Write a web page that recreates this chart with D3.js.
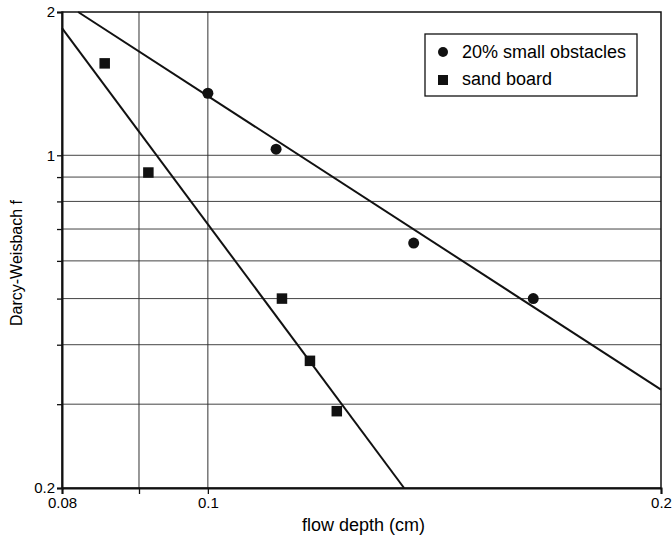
<!DOCTYPE html>
<html><head><meta charset="utf-8">
<script src="https://cdn.jsdelivr.net/npm/d3@7"></script>
<style>body{margin:0;background:#fff}svg{display:block}text{font-family:"Liberation Sans",Arial,sans-serif;fill:#000}</style>
</head><body><svg id="c" width="672" height="540"></svg>
<script>
// Data
const obstaclesDepth = [0.1, 0.111, 0.137, 0.1645];
const obstaclesF = [1.35, 1.03, 0.654, 0.50];
const sandDepth = [0.0854, 0.0913, 0.112, 0.1169, 0.1218];
const sandF = [1.56, 0.92, 0.50, 0.370, 0.290];
// fitted lines (endpoints)
const obstaclesFitX = [0.082, 0.2];
const obstaclesFitY = [2.0, 0.322];
const sandFitX = [0.08, 0.135];
const sandFitY = [1.85, 0.2];
const xTicks = [0.08, 0.09, 0.1, 0.2];
const xTickLabels = ["0.08", "", "0.1", "0.2"];
const yTicks = [0.2, 0.3, 0.4, 0.5, 0.6, 0.7, 0.8, 0.9, 1, 2];
const yTickLabels = ["0.2", "", "", "", "", "", "", "", "1", "2"];
const xGrid = [0.09, 0.1];
const yGrid = [0.3, 0.4, 0.5, 0.6, 0.7, 0.8, 0.9, 1];
const legendLabels = ["20% small obstacles", "sand board"];

const L = 62, R = 661, T = 12, B = 488;
const svg = d3.select("#c");
const x = d3.scaleLog().domain([0.08, 0.2]).range([L, R]);
const y = d3.scaleLog().domain([0.2, 2]).range([B, T]);

// grid
svg.append("g").selectAll("line").data(yGrid).join("line")
  .attr("x1", L).attr("x2", R).attr("y1", d => y(d)).attr("y2", d => y(d))
  .attr("stroke", "#444").attr("stroke-width", 1);
svg.append("g").selectAll("line").data(xGrid).join("line")
  .attr("y1", T).attr("y2", B).attr("x1", d => x(d)).attr("x2", d => x(d))
  .attr("stroke", "#333").attr("stroke-width", 1);

// frame
svg.append("rect").attr("x", L).attr("y", T).attr("width", R - L).attr("height", B - T)
  .attr("fill", "none").attr("stroke", "#111").attr("stroke-width", 1.5);

// axes
const xAxis = d3.axisBottom(x).tickValues(xTicks).tickSize(6)
  .tickFormat((d, i) => xTickLabels[i]);
const gx = svg.append("g").attr("transform", `translate(0,${B})`).call(xAxis);
gx.select(".domain").attr("stroke", "#111").attr("stroke-width", 2);
gx.selectAll(".tick line").attr("stroke", "#111").attr("stroke-width", 1.3);
gx.selectAll(".tick text").attr("font-size", 15).attr("dy", "0.75em")
  .attr("font-family", "Liberation Sans, Arial, sans-serif").attr("fill", "#000");

const yAxis = d3.axisLeft(y).tickValues(yTicks).tickSize(5)
  .tickFormat((d, i) => yTickLabels[i]);
const gy = svg.append("g").attr("transform", `translate(${L},0)`).call(yAxis);
gy.select(".domain").attr("stroke", "#111").attr("stroke-width", 2);
gy.selectAll(".tick line").attr("stroke", "#111").attr("stroke-width", 1.3);
gy.selectAll(".tick text").attr("font-size", 15).attr("x", -7)
  .attr("font-family", "Liberation Sans, Arial, sans-serif").attr("fill", "#000");

// fit lines
const line = d3.line().x(d => x(d[0])).y(d => y(d[1]));
svg.append("path").datum(obstaclesFitX.map((d, i) => [d, obstaclesFitY[i]]))
  .attr("d", line).attr("stroke", "#111").attr("stroke-width", 2).attr("fill", "none");
svg.append("path").datum(sandFitX.map((d, i) => [d, sandFitY[i]]))
  .attr("d", line).attr("stroke", "#111").attr("stroke-width", 2).attr("fill", "none");

// points
svg.append("g").selectAll("circle").data(obstaclesDepth).join("circle")
  .attr("cx", d => x(d)).attr("cy", (d, i) => y(obstaclesF[i])).attr("r", 5.5).attr("fill", "#111");
const s = 10.5;
svg.append("g").selectAll("rect").data(sandDepth).join("rect")
  .attr("x", d => x(d) - s / 2).attr("y", (d, i) => y(sandF[i]) - s / 2)
  .attr("width", s).attr("height", s).attr("fill", "#111");

// axis titles
svg.append("text").attr("x", (L + R) / 2 + 2).attr("y", 531).attr("text-anchor", "middle")
  .attr("font-size", 18).text("flow depth (cm)");
svg.append("text").attr("transform", `translate(22,${(T + B) / 2 + 13}) rotate(-90)`)
  .attr("text-anchor", "middle").attr("font-size", 16).text("Darcy-Weisbach f");

// legend
const lg = svg.append("g");
lg.append("rect").attr("x", 425).attr("y", 34).attr("width", 212).attr("height", 62)
  .attr("fill", "#fff").attr("stroke", "#111").attr("stroke-width", 1.3);
lg.append("circle").attr("cx", 443).attr("cy", 52).attr("r", 5).attr("fill", "#111");
lg.append("rect").attr("x", 438).attr("y", 75).attr("width", 10).attr("height", 10).attr("fill", "#111");
lg.selectAll("text").data(legendLabels).join("text")
  .attr("x", 462).attr("y", (d, i) => 58 + i * 27).attr("font-size", 18).text(d => d);
</script></body></html>
